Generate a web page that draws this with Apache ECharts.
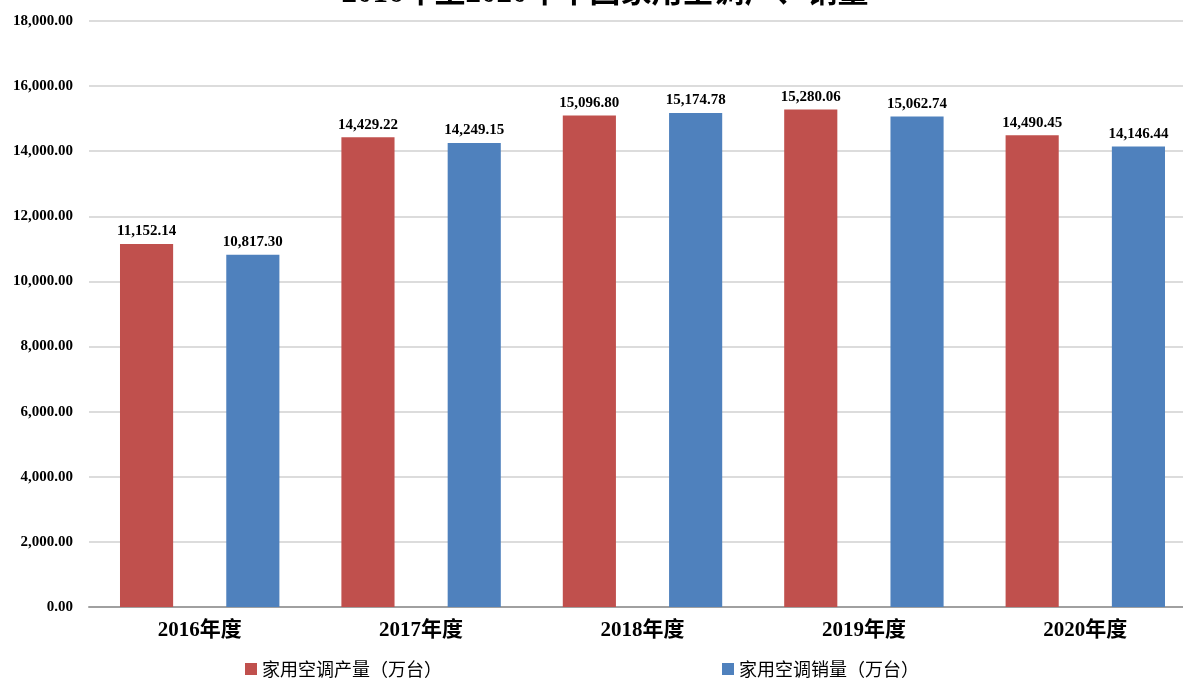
<!DOCTYPE html>
<html>
<head>
<meta charset="utf-8">
<style>
  html, body { margin: 0; padding: 0; background: #fff; overflow: hidden; }
  /* plot area runs past the right edge of the window, as in the source */
  #chart { width: 1196px; height: 679px; }
</style>
<script src="https://cdn.jsdelivr.net/npm/echarts@6/dist/echarts.min.js"></script>
</head>
<body>
<div id="chart"></div>
<script>
const categories = ["2016年度", "2017年度", "2018年度", "2019年度", "2020年度"];
const production = [11152.14, 14429.22, 15096.80, 15280.06, 14490.45];
const sales = [10817.30, 14249.15, 15174.78, 15062.74, 14146.44];
const seriesNames = ["家用空调产量（万台）", "家用空调销量（万台）"];

const fmt = v => Number(v).toLocaleString("en-US", { minimumFractionDigits: 2, maximumFractionDigits: 2 });
const serif = "Liberation Serif, Times New Roman, serif";

let labelStyle = {
  show: true,
  position: "top",
  distance: 5,
  color: "#000",
  fontFamily: serif,
  fontWeight: "bold",
  fontSize: 15,
  formatter: p => fmt(p.value)
};

const myChart = echarts.init(document.getElementById("chart"));
const option = {
  animation: false,
  title: {
    text: "2016年至2020年中国家用空调产、销量",
    left: 600,
    textAlign: "center",
    top: -27,
    textStyle: { fontFamily: serif + ", Noto Sans CJK SC", fontWeight: "bold", fontSize: 31, color: "#000" }
  },
  legend: {
    left: 240,
    top: 655,
    itemWidth: 12,
    itemHeight: 12,
    itemGap: 280,
    icon: "rect",
    textStyle: { fontFamily: "Noto Sans CJK SC", fontSize: 18, color: "#000" },
    data: seriesNames
  },
  grid: { left: 89, right: 0, top: 21, bottom: 72, containLabel: false },
  xAxis: {
    type: "category",
    data: categories,
    axisTick: { show: false },
    axisLine: { lineStyle: { color: "#a0a0a0", width: 2 } },
    axisLabel: { color: "#000", fontFamily: serif + ", Noto Sans CJK SC", fontWeight: "bold", fontSize: 21, margin: 13 }
  },
  yAxis: {
    type: "value",
    min: 0,
    max: 18000,
    interval: 2000,
    axisLine: { show: false },
    axisTick: { show: false },
    splitLine: { lineStyle: { color: "#dcdcdc", width: 2 } },
    axisLabel: { color: "#000", fontFamily: serif, fontWeight: "bold", fontSize: 15, margin: 16, formatter: v => fmt(v) }
  },
  series: [
    {
      name: seriesNames[0],
      type: "bar",
      data: production,
      barWidth: "24%",
      barGap: "100%",
      itemStyle: { color: "#C0504D" },
      label: labelStyle
    },
    {
      name: seriesNames[1],
      type: "bar",
      data: sales,
      barWidth: "24%",
      itemStyle: { color: "#4F81BD" },
      label: labelStyle
    }
  ]
};
myChart.setOption(option);
</script>
</body>
</html>
